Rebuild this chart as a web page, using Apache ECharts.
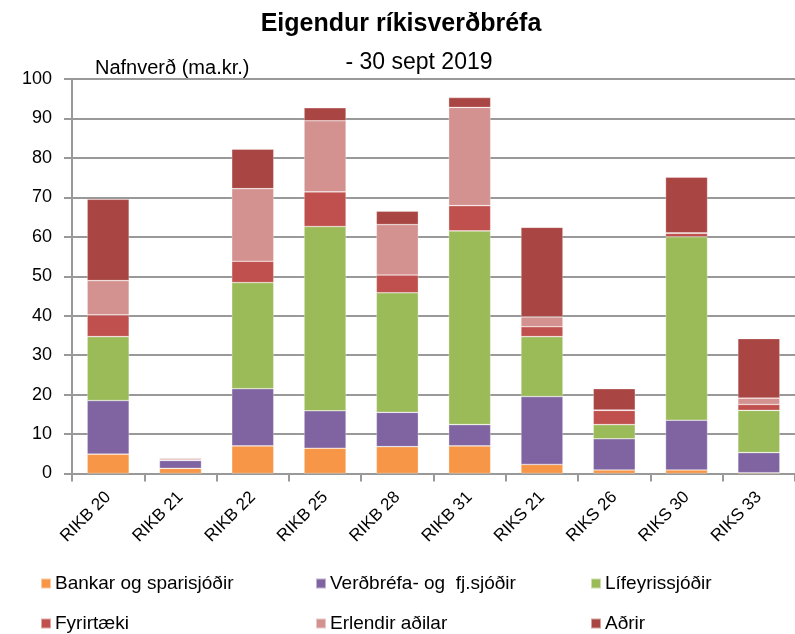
<!DOCTYPE html>
<html>
<head>
<meta charset="utf-8">
<script src="https://cdn.jsdelivr.net/npm/echarts@6/dist/echarts.min.js"></script>
<style>
  html, body { margin: 0; padding: 0; background: #fff; }
  #chart { width: 795px; height: 634px; }
</style>
</head>
<body>
<div id="chart"></div>
<script>
// Eigendur ríkisverðbréfa, 30 sept 2019 — nafnverð í ma.kr.
const categories = ['RIKB 20', 'RIKB 21', 'RIKB 22', 'RIKB 25', 'RIKB 28', 'RIKB 31', 'RIKS 21', 'RIKS 26', 'RIKS 30', 'RIKS 33'];

const bankar     = [4.9, 1.3, 7.0, 6.4, 6.8, 7.0, 2.3, 0.9, 0.9, 0.2];
const verdbrefa  = [13.6, 2.0, 14.5, 9.5, 8.7, 5.4, 17.2, 7.9, 12.6, 5.1];
const lifeyris   = [16.2, 0.1, 26.9, 46.7, 30.3, 49.1, 15.2, 3.6, 46.5, 10.7];
const fyrirtaeki = [5.5, 0.3, 5.4, 8.8, 4.5, 6.4, 2.5, 3.6, 0.9, 1.5];
const erlendir   = [8.7, 0.1, 18.4, 18.0, 12.8, 24.9, 2.5, 0.1, 0.1, 1.6];
const adrir      = [20.6, 0.2, 10.0, 3.3, 3.4, 2.5, 22.7, 5.4, 14.1, 15.1];

const yTicks = [0, 10, 20, 30, 40, 50, 60, 70, 80, 90, 100];

const seriesDefs = [
  { name: 'Bankar og sparisjóðir', data: bankar, color: '#F79646' },
  { name: 'Verðbréfa- og  fj.sjóðir', data: verdbrefa, color: '#8064A2' },
  { name: 'Lífeyrissjóðir', data: lifeyris, color: '#9BBB59' },
  { name: 'Fyrirtæki', data: fyrirtaeki, color: '#C0504D' },
  { name: 'Erlendir aðilar', data: erlendir, color: '#D39290' },
  { name: 'Aðrir', data: adrir, color: '#A94542' }
];

const FONT = '"Liberation Sans", Arial, sans-serif';

// Legend slots: three columns, two rows
const legendSlots = [
  { left: 40, top: 574 }, { left: 315, top: 574 }, { left: 590, top: 574 },
  { left: 40, top: 614 }, { left: 315, top: 614 }, { left: 590, top: 614 }
];

const chart = echarts.init(document.getElementById('chart'), null, { renderer: 'canvas' });

chart.setOption({
  animation: false,
  backgroundColor: '#fff',
  title: [
    {
      text: 'Eigendur ríkisverðbréfa',
      left: 396, top: 7, textAlign: 'center',
      textStyle: { fontFamily: FONT, fontSize: 25, fontWeight: 'bold', color: '#000' }
    },
    {
      text: '- 30 sept 2019',
      left: 414, top: 46, textAlign: 'center',
      textStyle: { fontFamily: FONT, fontSize: 23, fontWeight: 'normal', color: '#000' }
    },
    {
      text: 'Nafnverð (ma.kr.)',
      left: 90, top: 53,
      textStyle: { fontFamily: FONT, fontSize: 20, fontWeight: 'normal', color: '#000' }
    }
  ],
  legend: seriesDefs.map((s, i) => ({
    left: legendSlots[i].left,
    top: legendSlots[i].top,
    padding: 0,
    itemWidth: 10,
    itemHeight: 10,
    itemGap: 0,
    icon: 'rect',
    selectedMode: false,
    data: [s.name],
    textStyle: { fontFamily: FONT, fontSize: 19, color: '#000', padding: [0, 0, 0, -1] }
  })),
  grid: { left: 72, right: -4, top: 79, bottom: 160.5, containLabel: false },
  xAxis: {
    type: 'category',
    data: categories,
    axisLine: { lineStyle: { color: '#999', width: 2 } },
    axisTick: { show: true, length: 8, lineStyle: { color: '#999', width: 2 } },
    axisLabel: {
      rotate: 45, fontFamily: FONT, fontSize: 17, color: '#000', margin: 21
    }
  },
  yAxis: {
    type: 'value',
    min: 0, max: 100, interval: 10,
    axisLine: { show: true, lineStyle: { color: '#999', width: 2 } },
    axisTick: { show: true, length: 8, lineStyle: { color: '#999', width: 2 } },
    axisLabel: {
      fontFamily: FONT, fontSize: 18, color: '#000', margin: 20,
      formatter: v => (yTicks.includes(v) ? String(v) : '')
    },
    splitLine: { lineStyle: { color: '#999', width: 2 } }
  },
  series: seriesDefs.map(s => ({
    name: s.name,
    type: 'bar',
    stack: 'total',
    barWidth: 42,
    data: s.data,
    itemStyle: { color: s.color, borderColor: 'rgba(255,255,255,0.5)', borderWidth: 0.6 }
  }))
});
</script>
</body>
</html>
